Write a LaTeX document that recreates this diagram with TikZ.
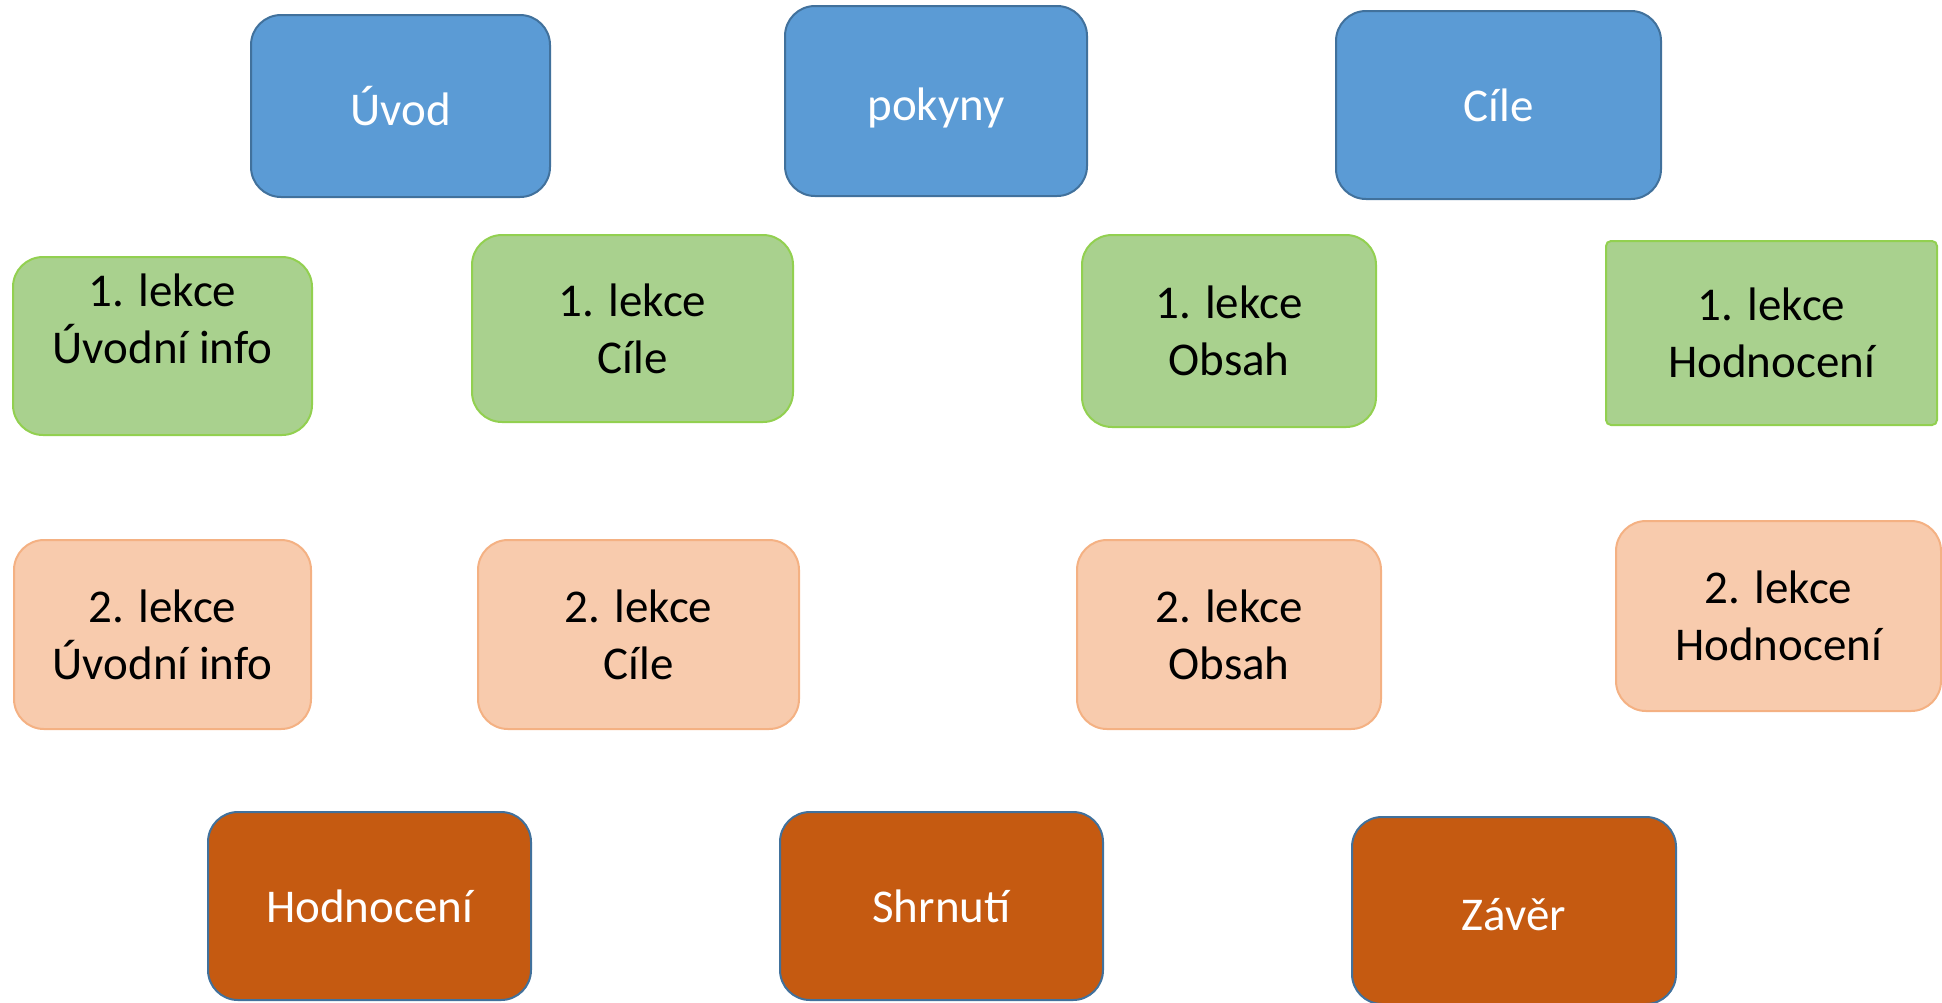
\documentclass[tikz,border=0pt]{standalone}
\usepackage{fontspec}
\setmainfont{Carlito}
\definecolor{bluefill}{HTML}{5B9BD5}
\definecolor{blueline}{HTML}{41719C}
\definecolor{greenfill}{HTML}{A9D18E}
\definecolor{greenline}{HTML}{92D050}
\definecolor{peachfill}{HTML}{F8CBAD}
\definecolor{peachline}{HTML}{F4B183}
\definecolor{rustfill}{HTML}{C55A11}
\begin{document}
\begin{tikzpicture}[x=0.5pt,y=-0.5pt,
  box/.style={draw, line width=1pt, rounded corners=15pt, align=center, inner sep=0pt,
    font=\fontsize{23.5}{28.5}\selectfont},
  bluebox/.style={box, fill=bluefill, draw=blueline, text=white},
  greenbox/.style={box, fill=greenfill, draw=greenline, text=black},
  peachbox/.style={box, fill=peachfill, draw=peachline, text=black},
  rustbox/.style={box, fill=rustfill, draw=blueline, text=white}]
\useasboundingbox (0,0) rectangle (1942,1002);
% top row
\node[bluebox, minimum width=149.5pt, minimum height=91pt] (uvod) at (400.5,106) {Úvod};
\node[bluebox, text height=19pt, text depth=0pt, minimum width=151pt, minimum height=95pt] (pokyny) at (936,101) {pokyny};
\node[bluebox, minimum width=162.5pt, minimum height=94pt] (cile) at (1498.5,105) {Cíle};
% green row
\node[greenbox, minimum width=149.5pt, minimum height=89pt] (g1) at (162.5,346) {1. lekce\\Úvodní info\\[-1pt]\mbox{}};
\node[greenbox, minimum width=160.5pt, minimum height=93.5pt] (g2) at (632.5,328.5) {1. lekce\\Cíle};
\node[greenbox, minimum width=147pt, minimum height=96pt] (g3) at (1229,331) {1. lekce\\Obsah};
\node[greenbox, rounded corners=2.5pt, minimum width=165.5pt, minimum height=92pt] (g4) at (1771.5,333) {1. lekce\\Hodnocení};
% peach row
\node[peachbox, minimum width=148.5pt, minimum height=94.5pt] (o1) at (162.5,634.5) {2. lekce\\Úvodní info};
\node[peachbox, minimum width=160.5pt, minimum height=94.5pt] (o2) at (638.5,634.5) {2. lekce\\Cíle};
\node[peachbox, minimum width=152pt, minimum height=94.5pt] (o3) at (1229,634.5) {2. lekce\\Obsah};
\node[peachbox, minimum width=162.5pt, minimum height=95pt] (o4) at (1778.5,616) {2. lekce\\Hodnocení};
% bottom row
\node[rustbox, minimum width=161.5pt, minimum height=94pt] (b1) at (369.5,906) {Hodnocení};
\node[rustbox, minimum width=161.5pt, minimum height=94pt] (b2) at (941.5,906) {Shrnutí};
\node[rustbox, text height=20pt, minimum width=162pt, minimum height=93.5pt] (b3) at (1514,910.5) {Závěr};
\end{tikzpicture}
\end{document}
